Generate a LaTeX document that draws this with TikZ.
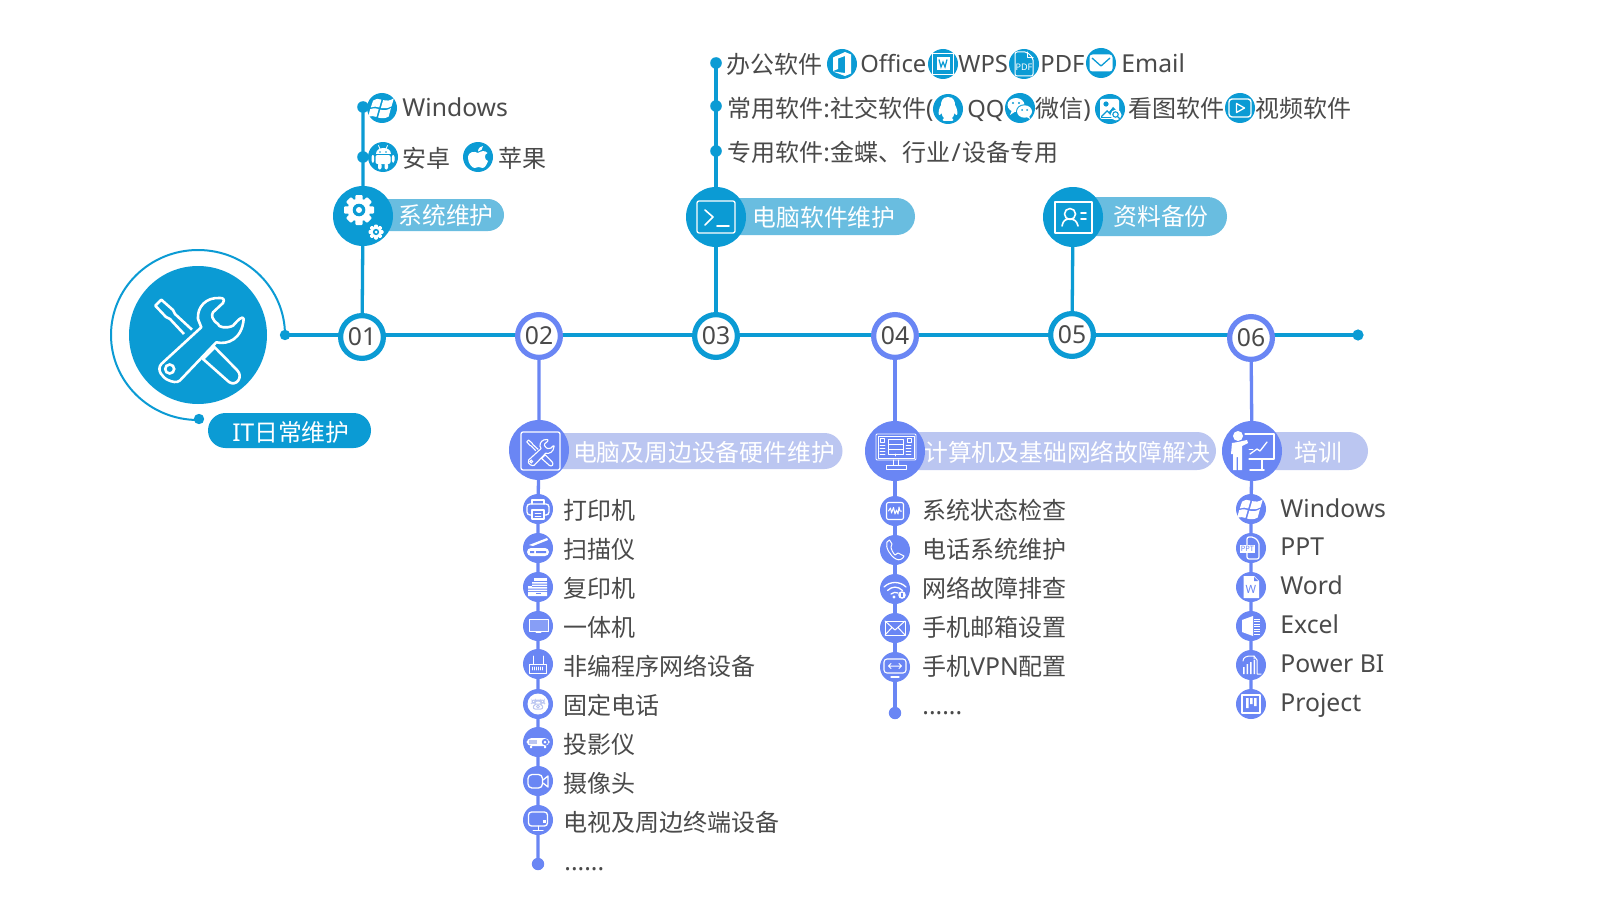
\documentclass[tikz,border=0pt]{standalone}
\usepackage{fontspec}
\setmainfont{Noto Sans}[Scale=1.03]
\newfontfamily\cjkf{Noto Sans CJK SC}
\usetikzlibrary{shapes.misc,backgrounds}
\definecolor{bl}{HTML}{0B9BD4}
\definecolor{pv}{HTML}{6A86F4}
\definecolor{plb}{HTML}{69BDE0}
\definecolor{plv}{HTML}{BBC6F1}
\definecolor{txc}{HTML}{4A4A4A}
\newcommand\zh[1]{{\cjkf #1}}
\tikzset{
  tx/.style={text=txc,font=\fontsize{12}{14}\selectfont,inner sep=0pt,anchor=base west},
  txn/.style={tx,font=\fontsize{11.55}{14}\selectfont},
  wt/.style={text=white,font=\fontsize{11.9}{14}\selectfont,inner sep=0pt},
  num/.style={circle,draw=#1,line width=2.6pt,fill=white,minimum size=21.4pt,inner sep=0pt,text=txc,font=\fontsize{12}{14}\selectfont},
  big/.style={circle,fill=#1,minimum size=30pt,inner sep=0pt},
  sico/.style={circle,fill=#1,minimum size=15pt,inner sep=0pt},
  dt/.style={circle,fill=#1,minimum size=5.8pt,inner sep=0pt},
  pill/.style={rounded rectangle,fill=#1,inner sep=0pt},
  conn/.style={draw=#1,line width=1.65pt},
  il/.style={draw=white,line width=.65pt,line join=round,line cap=round,fill=none},
  ilt/.style={draw=white,line width=.4pt,line join=round,line cap=round,fill=none},
}
\newcommand\icon[5]{\node[sico=#1] (#2) at (#3,#4) {};\begin{scope}[shift={(#2)}]\colorlet{icbg}{#1}#5\end{scope}}
\newcommand\bigicon[5]{\node[big=#1] (#2) at (#3,#4) {};\begin{scope}[shift={(#2)}]\colorlet{icbg}{#1}#5\end{scope}}
% ---- icons (local px, y down)
\newcommand\ictools[1]{%
 \draw[draw=white,line width=#1,line join=round,fill=none]
  (-6,-5.3) -- (-23,-21) -- (-25,-25) -- (-36.7,-35.3) -- (-42.7,-29.3) -- (-32,-18) -- (-28,-16) -- (-14,-1);
 \draw[draw=white,line width=#1,line join=round,fill=none]
  (5,24) -- (16.7,12.3) -- (39,35) .. controls (46,42) and (38,52) .. (31,47) -- cycle;
 \draw[draw=white,line width=#1,line join=round,fill=none]
  (3.3,-7.7) -- (-36.7,29) .. controls (-42,35) and (-35,43) .. (-30,45) .. controls (-26,47) and (-21,48) .. (-18.3,45.7) -- (18.3,7.3)
  .. controls (30,10) and (44,4) .. (45.7,-16) .. controls (45,-20) and (40,-15) .. (35,-9.3) .. controls (28,-6) and (20,-8) .. (20,-11)
  .. controls (14,-15) and (13,-20) .. (15,-22.7) -- (25,-32) .. controls (27,-36) and (25,-37) .. (22,-37) .. controls (8,-38) and (-1,-28) .. (0,-16) -- cycle;
 \draw[draw=white,line width=#1,fill=none] (-28.3,34) circle (4.5);}
\newcommand\gearic[1]{%
 \foreach \a in {0,45,...,315}{\fill[white,rotate=\a,rounded corners=.5] (-.24*#1,-#1) rectangle (.24*#1,-.5*#1);}
 \fill[white] (0,0) circle (.76*#1);
 \fill[icbg] (0,0) circle (.42*#1);
 \fill[white] (0,0) circle (.2*#1);}
\newcommand\icwin{\begin{scope}[scale=1.12]%
 \fill[white] (-8,-6.5) .. controls (-5,-8.5) and (-3,-8.5) .. (-.5,-7.5) -- (-2.5,-.5) .. controls (-5,-1.5) and (-7,-1.5) .. (-10,-.5) -- cycle;
 \fill[white] (1,-7) .. controls (4,-6) and (7,-6.5) .. (10.5,-8.5) -- (8.5,-1.5) .. controls (5,.5) and (2,.5) .. (-1,0) -- cycle;
 \fill[white] (-10.5,1) .. controls (-7,0) and (-5,0) .. (-3,1) -- (-5,8) .. controls (-7,7) and (-9,7) .. (-12.5,8) -- cycle;
 \fill[white] (-1.5,1.5) .. controls (2,2.5) and (5,2) .. (8,0) -- (6,7.5) .. controls (3,9.5) and (0,9.5) .. (-3.5,8.5) -- cycle;\end{scope}}
\newcommand\icandroid{%
 \fill[white] (-7.5,-3) .. controls (-7.5,-11) and (7.5,-11) .. (7.5,-3) -- cycle;
 \fill[white,rounded corners=1] (-7.5,-2) rectangle (7.5,7);
 \fill[white,rounded corners=1] (-11.5,-2) rectangle (-8.8,5.5);
 \fill[white,rounded corners=1] (8.8,-2) rectangle (11.5,5.5);
 \fill[white,rounded corners=1] (-5,6) rectangle (-1.5,12.5);
 \fill[white,rounded corners=1] (1.5,6) rectangle (5,12.5);
 \draw[ilt] (-4.5,-11.5) -- (-3,-8) (4.5,-11.5) -- (3,-8);
 \fill[icbg] (-3,-5) circle (.9) (3,-5) circle (.9);}
\newcommand\icapple{%
 \fill[white] (0,-4) .. controls (-3,-6) and (-10,-6) .. (-10,1) .. controls (-10,6) and (-6,11) .. (-3.5,11) .. controls (-2,11) and (-1,10) .. (.5,10) .. controls (2,10) and (3,11) .. (4.5,11) .. controls (7,11) and (9,7) .. (10,4) .. controls (6,3) and (6,-3) .. (9.5,-4) .. controls (7,-7) and (3,-6) .. (0,-4) -- cycle;
 \fill[white] (0,-5.5) .. controls (0,-9) and (3,-11) .. (5,-11) .. controls (5,-8) and (3,-6) .. (0,-5.5) -- cycle;}
\newcommand\icterm{%
 \draw[il,rounded corners=1] (-19,-16) rectangle (19,16);
 \draw[il,line width=.8pt] (-11,-7) -- (-3,0) -- (-11,8);
 \draw[il,line width=.8pt] (1,9) -- (13,9);}
\newcommand\iccontact{%
 \draw[il] (-18,-15) rectangle (19,16);
 \draw[il,line width=.8pt] (-3,-3) circle (5.5);
 \draw[il,line width=.8pt] (-11,9) .. controls (-10,3) and (-7,2) .. (-3,2) .. controls (1,2) and (4,4) .. (5,9);
 \draw[il,line width=.8pt] (8,-4) -- (13,-4) (8,2) -- (13,2);}
\newcommand\ictoolbox{%
 \draw[il,rounded corners=1] (-18,-18) rectangle (21,20);
 \begin{scope}[shift={(1,1)},scale=.31]\ictools{.55pt}\end{scope}}
\newcommand\icserver{%
 \draw[ilt,rounded corners=.5] (-19,-17) rectangle (21,9);
 \draw[ilt] (-17,-15) rectangle (19,7);
 \draw[ilt] (-7,-12) rectangle (8,-7) (-7,-7) rectangle (8,-2) (-7,-2) rectangle (8,3);
 \draw[ilt] (-15,-13) rectangle (-11,-9) (12,-13) rectangle (16,-9);
 \foreach \y in {-6,-3,0,3}{\draw[ilt] (-15,\y) -- (-10,\y) (11,\y) -- (16,\y);}
 \draw[ilt] (.5,3) -- (.5,5);
 \draw[ilt] (-2,9) -- (-2,14) (3,9) -- (3,14);
 \draw[ilt] (-9,14) rectangle (11,18);}
\newcommand\icteacher{%
 \fill[white] (-14,-15) circle (5);
 \fill[white] (-20,-8) -- (-14,-9) -- (-5,-11) -- (-4,-8) -- (-10,-5) -- (-10,19) -- (-14,19) -- (-14,6) -- (-15.5,6) -- (-15.5,19) -- (-19,19) -- (-19,3) -- (-21,3) -- cycle;
 \draw[il] (-7,-17) -- (22,-17) -- (22,8) -- (-3,8);
 \draw[il,line width=.9pt] (10,8) -- (10,18) (-2,19) -- (12,19);
 \draw[il] (-2,3) -- (5,-2) -- (8,0) -- (15,-9);
 \draw[il,line width=.4pt] (-3,-2) -- (1,-2);}
\newcommand\icprinter{%
 \draw[il] (-6,-5) -- (-6,-9) -- (6,-9) -- (6,-5);
 \draw[il,rounded corners=1.5] (-6,6) -- (-11,6) -- (-11,-5) -- (11,-5) -- (11,6) -- (6,6);
 \draw[il] (-6,1) rectangle (6,10);
 \draw[ilt] (-3,4) -- (3,4) (-3,7) -- (3,7);}
\newcommand\icscanner{%
 \fill[white] (-9,-3) -- (9,-10) -- (10,-8) -- (-5,-2) -- cycle;
 \fill[white,rounded corners=2] (-11,0) rectangle (11,8);
 \fill[icbg] (-8,3) rectangle (-4,5) (-2,3) rectangle (8,5);}
\newcommand\iccopier{%
 \fill[white] (-4,-9) rectangle (9,-6);
 \fill[white] (-6,-5) rectangle (9,-3.5) (-6,-2.5) rectangle (9,-1) (-10,0) rectangle (9,1.5) (-10,2.5) rectangle (9,4) (-10,5) rectangle (9,9);
 \fill[white] (-10,-1) rectangle (-6,0);
 \fill[icbg] (-2.5,5.8) rectangle (2.5,7.2);}
\newcommand\icscreen{%
 \draw[ilt] (-9,-7) rectangle (10,5);
 \fill[white,opacity=.2] (-9,-7) rectangle (10,5);
 \draw[ilt] (-2,6.5) -- (3,6.5);}
\newcommand\icrouter{%
 \draw[il,line width=.5pt] (-8.5,0) rectangle (8.5,9);
 \draw[il,line width=.5pt] (-5,0) -- (-5,-8) (5,0) -- (5,-8) (-2,0) -- (2,0);
 \foreach \x in {-5.5,-3.5,...,5.5}{\draw[ilt,line width=.45pt] (\x,3) -- (\x,6);}}
\newcommand\icdeskphone{%
 \fill[white] (0,0) circle (10.5);
 \draw[plv,line width=.5pt,rounded corners=1] (-6,-1) -- (-6,-4) -- (6,-4) -- (6,-1) -- (3,-1) -- (3,-3) -- (-3,-3) -- (-3,-1) -- cycle;
 \draw[plv,line width=.5pt,rounded corners=1] (-5,5) -- (-4,0) -- (4,0) -- (5,5) -- cycle;
 \draw[plv,line width=.4pt] (0,2.5) circle (1.5);}
\newcommand\icprojector{%
 \fill[white,rounded corners=2.5] (-11.5,-4) rectangle (11.5,4);
 \fill[white] (-8,4) rectangle (-6,6) (6,4) rectangle (8,6);
 \fill[plv] (-9,-2) rectangle (-1.5,1.5);
 \fill[icbg] (7,0) circle (3.2);
 \fill[white] (7,0) circle (1.5);}
\newcommand\iccamera{%
 \draw[il,rounded corners=2] (-10,-6.5) rectangle (4.5,7);
 \draw[il] (5,-1) -- (10,-5) -- (10,6) -- (5,2);}
\newcommand\ictv{%
 \draw[il,rounded corners=1.5] (-9.5,-8) rectangle (9.5,6);
 \draw[il,line width=.5pt] (0,6) -- (0,10) (-5,10) -- (5,10);
 \fill[white] (5,0) rectangle (7.5,3);}
\newcommand\icpulse{%
 \draw[il,line width=.55pt,rounded corners=1] (-8.5,-8.5) rectangle (8.5,8.5);
 \draw[il,line width=.5pt] (-6.5,0) -- (-4.5,-3) -- (-3.5,2) -- (-1.5,-3.5) -- (0,3) -- (1.5,-1) -- (3,3) -- (4,-4) -- (5,0) -- (6.5,0);}
\newcommand\ichandset{%
 \draw[il,line width=.5pt] (-8,-8) .. controls (-10,-3) and (-5,6) .. (1,9) .. controls (4,11) and (8,9) .. (9,6) -- (3,3) -- (0,5) .. controls (-2,3) and (-4,-1) .. (-4,-3) -- (-3,-6) -- (-5.5,-10) -- cycle;}
\newcommand\icwifi{%
 \draw[il,line width=.65pt] (-11,-2) .. controls (-5,-8) and (5,-8) .. (11,-2);
 \draw[il,line width=.65pt] (-7.5,1.5) .. controls (-3,-3) and (3,-3) .. (7.5,1.5);
 \draw[il,line width=.65pt] (-4,5) .. controls (-2,3) and (1,3) .. (3,4);
 \fill[white] (-1,8) circle (1.6);
 \fill[white] (7,6) circle (3.8);
 \fill[icbg] (6.4,3.8) rectangle (7.6,8);}
\newcommand\icenvelope{%
 \draw[il,line width=.5pt] (-10,-7) rectangle (10,7);
 \draw[il,line width=.5pt] (-10,-7) -- (0,2) -- (10,-7) (-10,7) -- (-3,-.5) (10,7) -- (3,-.5);}
\newcommand\icresize{%
 \draw[il,line width=.55pt,rounded corners=1.5] (-11,-8) rectangle (11,6);
 \draw[il,line width=.5pt] (-6,-1) -- (6,-1) (-4,-3.5) -- (-6.5,-1) -- (-4,1.5) (4,-3.5) -- (6.5,-1) -- (4,1.5);
 \draw[il,line width=.6pt] (-4,10) -- (4,10);}
\newcommand\icword{%
 \fill[white] (-7.5,-11) -- (3,-11) -- (8,-6) -- (8,11) -- (-7.5,11) -- cycle;
 \fill[icbg] (3,-10) -- (7,-6) -- (3,-6) -- cycle;
 \node[inner sep=0pt,text=icbg,font=\fontsize{5.5}{6}\bfseries\selectfont] at (0,2) {W};}
\newcommand\icpptf{%
 \draw[il,line width=.6pt,rounded corners=1] (-4,-3) -- (-4,-11) -- (3,-11) -- (8,-6) -- (8,11) -- (-4,11) -- (-4,5);
 \fill[white] (-11,-3) rectangle (4,5);
 \node[inner sep=0pt,text=icbg,font=\fontsize{3.6}{4}\bfseries\selectfont] at (-3.5,1) {PPT};}
\newcommand\icexcel{%
 \fill[white] (-9,-6) -- (2,-10) -- (2,10) -- (-9,6) -- cycle;
 \foreach \y in {-7,-4.5,...,8}{\draw[white,line width=.45pt] (3,\y) -- (9,\y);}}
\newcommand\icpowerbi{%
 \draw[il,line width=.5pt] (-8,-4) .. controls (-8,-8) and (-4,-9) .. (0,-9) -- (3,-9) -- (3,-6);
 \draw[il,line width=.5pt] (3,-9) -- (6,-5) -- (6,9) -- (10,9);
 \fill[white] (-8,2) rectangle (-6.5,9) (-4.5,-1) rectangle (-3,9) (-1,-3) rectangle (.5,9) (2.5,-5) rectangle (4,9);}
\newcommand\icproject{%
 \draw[il,line width=.6pt] (-9,-9) rectangle (9,9);
 \fill[white] (-5,-6) rectangle (-2.5,4) (-1,-6) rectangle (1.5,0) (3,-6) rectangle (5.5,2);}
\newcommand\icoffice{%
 \fill[white] (-9,-6.5) -- (3,-12) -- (9,-9.5) -- (9,9.5) -- (3,12) -- (-9,7.5) -- (3,9) -- (3,-8) -- (-4,-5.5) -- (-4,5) -- (-9,7) -- cycle;}
\newcommand\icwps{%
 \draw[il,line width=.65pt] (-10.5,-10.5) rectangle (10.5,10.5);
 \fill[white] (-6.5,-7) rectangle (6.5,6);
 \draw[icbg,line width=.6pt] (-4,-4.5) -- (-2,3) -- (0,-2) -- (2,3) -- (4,-4.5);}
\newcommand\icpdf{%
 \draw[il,line width=.5pt,rounded corners=1] (-9,-12) -- (3,-12) -- (9,-6) -- (9,12) -- (-9,12) -- cycle;
 \draw[il,line width=.5pt] (3,-12) -- (3,-6) -- (9,-6);
 \node[inner sep=0pt,text=white,font=\fontsize{4.4}{5}\selectfont] at (0,3) {PDF};}
\newcommand\icmail{%
 \fill[white,rounded corners=1.5] (-11.5,-8.5) rectangle (11.5,8.5);
 \draw[icbg,line width=.65pt,line join=round] (-9,-5) -- (0,3) -- (9,-5);}
\newcommand\icqq{%
 \fill[white] (0,-12) .. controls (-6,-12) and (-7,-7) .. (-7,-4) .. controls (-9,-1) and (-10,4) .. (-9,6) .. controls (-8,6.5) and (-7,5) .. (-6.5,4) .. controls (-6,7) and (-5,8) .. (-4,9) .. controls (-6,10) and (-6,12) .. (-3,12) -- (3,12) .. controls (6,12) and (6,10) .. (4,9) .. controls (5,8) and (6,7) .. (6.5,4) .. controls (7,5) and (8,6.5) .. (9,6) .. controls (10,4) and (9,-1) .. (7,-4) .. controls (7,-7) and (6,-12) .. (0,-12) -- cycle;}
\newcommand\icwechat{%
 \fill[white] (-4,-3) ellipse (8.5 and 7);
 \fill[white] (-8,2) -- (-10,7) -- (-4,3) -- cycle;
 \fill[icbg] (4.5,3.5) ellipse (8.5 and 7.2);
 \fill[white] (4.5,3.5) ellipse (7.5 and 6.2);
 \fill[white] (9,7) -- (10,11) -- (5,8) -- cycle;
 \fill[icbg] (-7,-5) circle (1.1) (-1,-5) circle (1.1) (2,2) circle (1) (7,2) circle (1);}
\newcommand\icimage{%
 \fill[white,rounded corners=1] (-10,-10) rectangle (9,10);
 \fill[icbg] (-4,-5) circle (2.6);
 \fill[icbg] (-9,7) -- (-3,1) -- (-1,3) -- (3,-2) -- (8,3) -- (8,4) -- (1,9) -- (-9,9) -- cycle;
 \fill[white] (-8,8) -- (-3,3) -- (2,8) -- cycle;
 \fill[white] (6,6) circle (5.5);
 \draw[icbg,line width=.55pt] (5.5,5.5) circle (2.7) (7.5,7.5) -- (10,10);}
\newcommand\icvideo{%
 \draw[il,line width=.7pt,rounded corners=1.5] (-11,-9) rectangle (11,9);
 \draw[il,line width=.65pt] (-3.5,-4.5) -- (4.5,0) -- (-3.5,4.5) -- cycle;}
\begin{document}
\begin{tikzpicture}[x=.5pt,y=-.5pt]
\useasboundingbox (0,0) rectangle (1600,915);
% hub
\node[big=bl,minimum size=69pt] (hub) at (198,335) {};
\begin{scope}[shift={(hub)}]\ictools{1.3pt}\end{scope}
\node[dt=bl,minimum size=5.2pt] (hubR) at (285,335) {};
\node[dt=bl,minimum size=5.2pt] (hubB) at (199,419) {};
\node[pill=bl,minimum width=81.5pt,minimum height=17.5pt] (hubP) at (289.5,430.5) {};
\node[wt] (hubT) at (291,432) {IT\zh{日常维护}};
% numbered nodes
\node[num=bl] (n1) at (362,337) {01};
\node[num=pv] (n2) at (539,336) {02};
\node[num=bl] (n3) at (716,336) {03};
\node[num=pv] (n4) at (895,336) {04};
\node[num=bl] (n5) at (1072,335) {05};
\node[num=pv] (n6) at (1251,338) {06};
\node[circle,fill=bl,minimum size=5.6pt,inner sep=0pt] (endD) at (1358,335) {};
% 01
\node[pill=plb,minimum width=71pt,minimum height=16pt] (p1) at (433,215) {};
\node[wt] (p1t) at (446,215) {\zh{系统维护}};
\bigicon{bl}{b1}{363}{216}{\begin{scope}[shift={(-4,-6)}]\gearic{15}\end{scope}\begin{scope}[shift={(13,16)}]\gearic{7.5}\end{scope}}
\node[dt=bl] (d11) at (363,107) {};
\node[dt=bl] (d12) at (363,157) {};
\icon{bl}{i11}{382}{108}{\icwin}
\icon{bl}{i12}{383}{157}{\icandroid}
\icon{bl}{i13}{478}{157}{\icapple}
\node[tx] (t11) at (402,116.5) {Windows};
\node[tx] (t12) at (402,167) {\zh{安卓}};
\node[tx] (t13) at (498,167) {\zh{苹果}};
% 03
\node[pill=plb,minimum width=99.5pt,minimum height=18.5pt] (p3) at (815.5,216.5) {};
\node[wt] (p3t) at (824,217) {\zh{电脑软件维护}};
\bigicon{bl}{b3}{716}{217}{\icterm}
\node[dt=bl] (d31) at (716,63) {};
\node[dt=bl] (d32) at (716,106) {};
\node[dt=bl] (d33) at (716,151) {};
\node[tx] (t31) at (726,74) {\zh{办公软件}};
\icon{bl}{i31}{842}{64}{\icoffice}
\node[txn] (t32) at (860,73) {Office};
\icon{bl}{i32}{943}{64}{\icwps}
\node[txn] (t33) at (958,73) {WPS};
\icon{bl}{i33}{1024}{64}{\icpdf}
\node[txn] (t34) at (1040,73) {PDF};
\icon{bl}{i34}{1101}{63}{\icmail}
\node[tx] (t35) at (1121,73) {Email};
\node[tx] (t36) at (727,118) {\zh{常用软件}:\zh{社交软件}(};
\icon{bl}{i35}{948}{109}{\icqq}
\node[txn] (t37) at (967,118) {QQ};
\icon{bl}{i36}{1020}{108}{\icwechat}
\node[tx] (t38) at (1035,118) {\zh{微信})};
\icon{bl}{i37}{1110}{109}{\icimage}
\node[tx] (t39) at (1128,118) {\zh{看图软件}};
\icon{bl}{i38}{1240}{108}{\icvideo}
\node[tx] (t310) at (1255,118) {\zh{视频软件}};
\node[tx] (t311) at (727,162) {\zh{专用软件}:\zh{金蝶、行业}\kern.8pt/\kern.8pt\zh{设备专用}};
% 05
\node[pill=plb,minimum width=77pt,minimum height=19.5pt] (p5) at (1150,216.5) {};
\node[wt] (p5t) at (1161,216) {\zh{资料备份}};
\bigicon{bl}{b5}{1073}{217}{\iccontact}
% 02
\node[pill=plv,minimum width=151.5pt,minimum height=18pt] (p2) at (691,451) {};
\node[wt] (p2t) at (704,452) {\zh{电脑及周边设备硬件维护}};
\bigicon{pv}{b2}{539}{450}{\ictoolbox}
\icon{pv}{i21}{538}{509}{\icprinter}
\icon{pv}{i22}{538}{548}{\icscanner}
\icon{pv}{i23}{538}{587}{\iccopier}
\icon{pv}{i24}{538}{626}{\icscreen}
\icon{pv}{i25}{538}{664}{\icrouter}
\icon{pv}{i26}{538}{704}{\icdeskphone}
\icon{pv}{i27}{538}{742}{\icprojector}
\icon{pv}{i28}{538}{781}{\iccamera}
\icon{pv}{i29}{538}{820}{\ictv}
\node[dt=pv,minimum size=6.2pt] (d2e) at (538,864) {};
\node[tx] (t21) at (563,519) {\zh{打印机}};
\node[tx] (t22) at (563,558) {\zh{扫描仪}};
\node[tx] (t23) at (563,597) {\zh{复印机}};
\node[tx] (t24) at (563,636) {\zh{一体机}};
\node[tx] (t25) at (563,675) {\zh{非编程序网络设备}};
\node[tx] (t26) at (563,714) {\zh{固定电话}};
\node[tx] (t27) at (563,753) {\zh{投影仪}};
\node[tx] (t28) at (563,792) {\zh{摄像头}};
\node[tx] (t29) at (563,831) {\zh{电视及周边终端设备}};
\node[tx] (t210) at (564,870) {......};
% 04
\node[pill=plv,minimum width=161pt,minimum height=19pt] (p4) at (1055,451) {};
\node[wt] (p4t) at (1067,452) {\zh{计算机及基础网络故障解决}};
\bigicon{pv}{b4}{895}{451}{\icserver}
\icon{pv}{i41}{895}{511}{\icpulse}
\icon{pv}{i42}{895}{550}{\ichandset}
\icon{pv}{i43}{895}{589}{\icwifi}
\icon{pv}{i44}{895}{628}{\icenvelope}
\icon{pv}{i45}{895}{667}{\icresize}
\node[dt=pv,minimum size=6.2pt] (d4e) at (895,713) {};
\node[tx] (t41) at (922,519) {\zh{系统状态检查}};
\node[tx] (t42) at (922,558) {\zh{电话系统维护}};
\node[tx] (t43) at (922,597) {\zh{网络故障排查}};
\node[tx] (t44) at (922,636) {\zh{手机邮箱设置}};
\node[tx] (t45) at (922,675) {\zh{手机}VPN\zh{配置}};
\node[tx] (t46) at (922,714) {......};
% 06
\node[pill=plv,minimum width=58pt,minimum height=19pt] (p6) at (1310,451) {};
\node[wt] (p6t) at (1318,452) {\zh{培训}};
\bigicon{pv}{b6}{1252}{451}{\icteacher}
\icon{pv}{i61}{1251}{509}{\icwin}
\icon{pv}{i62}{1251}{548}{\icpptf}
\icon{pv}{i63}{1251}{587}{\icword}
\icon{pv}{i64}{1251}{626}{\icexcel}
\icon{pv}{i65}{1251}{665}{\icpowerbi}
\icon{pv}{i66}{1251}{704}{\icproject}
\node[tx] (t61) at (1280,517) {Windows};
\node[tx] (t62) at (1280,555.5) {PPT};
\node[tx] (t63) at (1280,594.5) {Word};
\node[tx] (t64) at (1280,633) {Excel};
\node[tx] (t65) at (1280,672) {Power BI};
\node[tx] (t66) at (1280,711) {Project};
% connectors
\begin{scope}[on background layer]
\fill[white] (0,0) rectangle (1600,915);
\draw[draw=bl,line width=1pt] (hubR.center) arc [start angle=0,end angle=-270,x radius=87,y radius=85];
\draw[conn=bl] (hubR.center) -- (endD.center);
\draw[conn=bl] (n1.center) -- (b1.center) -- (d12.center) -- (d11.center);
\draw[conn=bl] (n3.center) -- (b3.center) -- (d33.center) -- (d32.center) -- (d31.center);
\draw[conn=bl] (n5.center) -- (b5.center);
\draw[conn=pv] (n2.center) -- (b2.center) -- (i21.center) -- (i22.center) -- (i23.center) -- (i24.center) -- (i25.center) -- (i26.center) -- (i27.center) -- (i28.center) -- (i29.center) -- (d2e.center);
\draw[conn=pv] (n4.center) -- (b4.center) -- (i41.center) -- (i42.center) -- (i43.center) -- (i44.center) -- (i45.center) -- (d4e.center);
\draw[conn=pv] (n6.center) -- (b6.center) -- (i61.center) -- (i62.center) -- (i63.center) -- (i64.center) -- (i65.center) -- (i66.center);
\end{scope}
\end{tikzpicture}
\end{document}
